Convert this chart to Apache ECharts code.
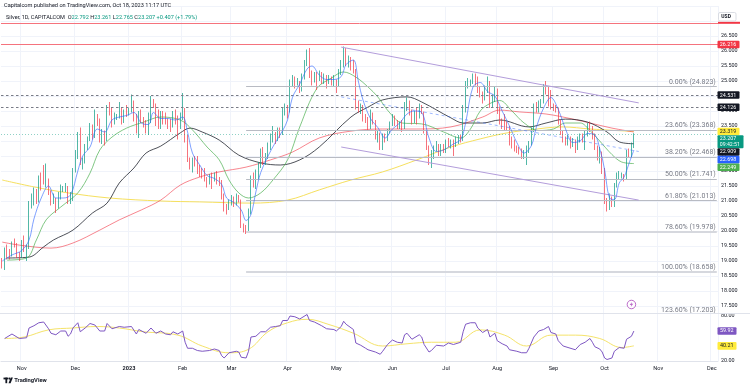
<!DOCTYPE html>
<html><head><meta charset="utf-8">
<script src="https://cdn.jsdelivr.net/npm/echarts@6/dist/echarts.min.js"></script>
<style>html,body{margin:0;padding:0;background:#fff;}#c{width:750px;height:389px;}</style>
</head><body><div id="c"></div>
<script>
// ---------- DATA ----------
// daily candles [open, high, low, close]
const oct22=[[18.95,19.10,18.75,18.85],[18.85,19.45,18.70,19.40],[19.40,19.55,19.05,19.30],[19.30,19.40,19.05,19.20],[19.20,19.65,19.15,19.60],[19.60,19.75,19.45,19.55],[19.55,19.60,19.10,19.20],[19.20,19.30,19.00,19.15]];
const nov22=[[19.15,19.70,19.10,19.65],[19.65,19.85,19.30,19.40],[19.40,19.55,19.00,19.45],[19.45,21.00,19.40,20.85],[20.85,21.25,20.75,21.05],[21.05,21.45,20.85,21.30],[21.30,21.40,20.90,21.05],[21.05,21.85,20.95,21.75],[21.75,21.95,21.35,21.70],[21.70,22.20,21.55,21.60],[21.60,22.25,21.45,21.65],[21.65,21.75,21.20,21.30],[21.30,21.35,20.85,20.95],[20.95,21.25,20.90,21.00],[21.00,21.10,20.60,20.85],[20.85,21.30,20.75,21.20],[21.20,21.55,21.05,21.40],[21.40,21.50,21.30,21.42],[21.42,21.60,21.30,21.45],[21.45,21.50,20.90,20.95],[20.95,21.30,20.90,21.10],[21.10,22.10,21.00,22.00]];
const dec22=[[22.00,22.70,21.95,22.55],[22.55,23.30,22.40,23.15],[23.15,23.45,22.20,22.30],[22.30,22.45,22.05,22.32],[22.32,22.90,22.25,22.80],[22.80,23.15,22.70,23.10],[23.10,23.60,23.00,23.50],[23.50,23.55,23.05,23.15],[23.15,24.05,23.10,23.70],[23.70,23.90,23.50,23.68],[23.68,23.75,22.95,23.05],[23.05,23.40,22.90,23.25],[23.25,23.35,22.85,23.05],[23.05,24.20,23.00,24.10],[24.10,24.30,23.85,24.00],[24.00,24.10,23.45,23.65],[23.65,23.95,23.55,23.80],[23.80,23.90,23.70,23.85],[23.85,24.30,23.75,24.00],[24.00,24.10,23.55,23.65],[23.65,24.05,23.60,23.95],[23.95,24.20,23.80,23.92]];
const jan23=[[23.92,24.10,23.85,24.00],[24.00,24.55,23.95,24.05],[24.05,24.35,23.65,23.85],[23.85,23.90,23.25,23.30],[23.30,24.00,23.10,23.85],[23.85,24.05,23.60,23.70],[23.70,23.80,23.45,23.60],[23.60,23.70,23.25,23.35],[23.35,23.95,23.20,23.70],[23.70,24.50,23.60,24.30],[24.30,24.40,24.10,24.20],[24.20,24.25,23.50,23.60],[23.60,24.05,23.40,23.50],[23.50,24.00,23.40,23.90],[23.90,24.00,23.55,23.88],[23.88,23.95,23.55,23.65],[23.65,23.75,23.40,23.60],[23.60,23.75,23.30,23.50],[23.50,24.00,23.45,23.90],[23.90,24.05,23.55,23.65],[23.65,23.85,23.05,23.60],[23.60,23.95,23.40,23.85]];
const feb23=[[23.85,24.60,23.70,24.00],[24.00,24.10,22.95,23.10],[23.10,23.20,22.30,22.40],[22.40,22.45,22.05,22.25],[22.25,22.45,21.95,22.30],[22.30,22.50,22.15,22.28],[22.28,22.50,21.90,22.00],[22.00,22.20,21.80,21.95],[21.95,22.10,21.75,21.90],[21.90,22.10,21.65,21.75],[21.75,21.80,21.45,21.60],[21.60,21.90,21.55,21.85],[21.85,21.95,21.40,21.70],[21.70,21.95,21.65,21.90],[21.90,22.00,21.55,21.70],[21.70,21.80,21.50,21.65],[21.65,21.70,21.05,21.20],[21.20,21.25,20.65,20.75],[20.75,20.90,20.55,20.72],[20.72,21.05,20.70,20.95]];
const mar23=[[20.95,21.20,20.85,21.10],[21.10,21.15,20.80,20.90],[20.90,21.25,20.85,21.15],[21.15,21.20,20.95,21.00],[21.00,21.05,20.10,20.15],[20.15,20.25,19.95,20.05],[20.05,20.20,19.90,20.00],[20.00,20.75,19.95,20.60],[20.60,21.85,20.55,21.75],[21.75,21.95,21.45,21.70],[21.70,22.05,21.40,21.80],[21.80,22.30,21.70,22.20],[22.20,22.75,22.10,22.60],[22.60,22.80,22.20,22.35],[22.35,22.60,22.20,22.45],[22.45,22.95,22.40,22.80],[22.80,23.25,22.70,23.05],[23.05,23.50,22.95,23.15],[23.15,23.30,22.90,23.10],[23.10,23.45,23.00,23.35],[23.35,23.45,23.10,23.25],[23.25,24.10,23.20,24.00],[24.00,24.25,23.85,24.05]];
const apr23=[[24.05,24.20,23.75,24.00],[24.00,25.05,23.95,24.95],[24.95,25.20,24.80,25.05],[25.05,25.15,24.75,24.90],[24.90,25.10,24.85,24.95],[24.95,25.00,24.60,24.75],[24.75,25.25,24.65,25.15],[25.15,25.70,25.05,25.60],[25.60,26.05,25.50,25.80],[25.80,26.10,25.10,25.30],[25.30,25.35,24.85,25.10],[25.10,25.30,24.95,25.20],[25.20,25.30,24.70,25.15],[25.15,25.35,25.00,25.20],[25.20,25.30,24.90,25.05],[25.05,25.25,24.90,25.10],[25.10,25.20,24.75,24.95],[24.95,25.20,24.90,25.10],[25.10,25.15,24.85,24.95],[24.95,25.20,24.80,25.00]];
const may23=[[25.00,25.05,24.60,24.95],[24.95,25.40,24.80,25.35],[25.35,25.70,25.20,25.55],[25.55,26.15,25.45,25.95],[25.95,26.10,25.50,25.65],[25.65,25.85,25.45,25.75],[25.75,25.80,25.35,25.60],[25.60,25.70,25.25,25.35],[25.35,25.40,24.05,24.15],[24.15,24.35,23.95,24.05],[24.05,24.25,23.90,24.15],[24.15,24.20,23.65,23.75],[23.75,23.90,23.60,23.70],[23.70,23.80,23.35,23.45],[23.45,24.05,23.40,23.90],[23.90,23.95,23.55,23.65],[23.65,23.70,23.05,23.15],[23.15,23.35,22.95,23.25],[23.25,23.28,22.70,22.85],[22.85,23.25,22.70,23.15],[23.15,23.25,22.95,23.10],[23.10,23.40,23.00,23.30],[23.30,23.65,23.25,23.55]];
const jun23=[[23.55,23.90,23.50,23.80],[23.80,23.85,23.50,23.60],[23.60,23.70,23.40,23.50],[23.50,23.65,23.40,23.55],[23.55,23.70,23.30,23.45],[23.45,24.30,23.40,24.20],[24.20,24.45,24.00,24.30],[24.30,24.35,23.85,23.95],[23.95,24.05,23.55,23.70],[23.70,24.00,23.60,23.95],[23.95,24.10,23.55,23.80],[23.80,24.25,23.75,24.15],[24.15,24.20,23.90,23.95],[23.95,23.98,23.25,23.30],[23.30,23.35,22.70,22.80],[22.80,22.85,22.20,22.35],[22.35,22.70,22.10,22.45],[22.45,22.85,22.40,22.75],[22.75,23.00,22.65,22.80],[22.80,22.90,22.50,22.65],[22.65,22.90,22.50,22.75],[22.75,22.90,22.60,22.70]];
const jul23=[[22.70,23.05,22.60,22.95],[22.95,23.10,22.80,22.90],[22.90,23.05,22.75,23.00],[23.00,23.05,22.50,22.85],[22.85,23.15,22.80,23.05],[23.05,23.20,22.90,23.10],[23.10,23.20,22.95,23.05],[23.05,24.20,23.00,24.05],[24.05,25.00,23.95,24.90],[24.90,25.10,24.75,24.95],[24.95,25.05,24.80,25.00],[25.00,25.25,24.90,25.15],[25.15,25.25,24.85,25.10],[25.10,25.15,24.60,24.75],[24.75,24.80,24.45,24.55],[24.55,24.65,24.25,24.45],[24.45,24.85,24.35,24.75],[24.75,25.15,24.60,24.90],[24.90,25.00,24.10,24.25],[24.25,24.55,24.10,24.35],[24.35,24.80,24.30,24.70]];
const aug23=[[24.70,24.75,23.90,24.05],[24.05,24.15,23.55,23.65],[23.65,23.75,23.40,23.60],[23.60,23.90,23.35,23.55],[23.55,23.65,23.35,23.45],[23.45,23.50,22.85,22.95],[22.95,23.15,22.75,22.80],[22.80,23.05,22.65,22.75],[22.75,22.85,22.60,22.70],[22.70,22.80,22.55,22.65],[22.65,22.75,22.40,22.50],[22.50,22.70,22.40,22.55],[22.55,22.85,22.20,22.70],[22.70,23.00,22.60,22.90],[22.90,23.45,22.85,23.35],[23.35,24.25,23.30,24.15],[24.15,24.30,23.95,24.10],[24.10,24.35,23.95,24.25],[24.25,24.40,24.10,24.30],[24.30,24.90,24.25,24.70],[24.70,25.00,24.55,24.65],[24.65,24.80,24.15,24.20],[24.20,24.70,24.05,24.15]];
const sep23=[[24.15,24.25,24.00,24.10],[24.10,24.20,23.95,24.05],[24.05,24.10,23.55,23.60],[23.60,23.70,23.20,23.30],[23.30,23.35,22.95,23.10],[23.10,23.15,22.85,23.00],[23.00,23.20,22.85,23.05],[23.05,23.15,22.75,22.85],[22.85,23.10,22.80,23.00],[23.00,23.05,22.60,22.75],[22.75,23.15,22.70,23.05],[23.05,23.25,22.95,23.20],[23.20,23.25,22.95,23.10],[23.10,23.35,22.70,23.30],[23.30,23.60,23.15,23.50],[23.50,23.65,23.30,23.45],[23.45,23.50,23.05,23.20],[23.20,23.25,22.70,22.80],[22.80,22.85,22.35,22.45],[22.45,22.80,22.25,22.55],[22.55,22.65,21.90,22.05]];
const oct23=[[22.05,22.10,20.90,21.00],[21.00,21.10,20.65,20.90],[20.90,21.25,20.70,21.00],[21.00,21.15,20.80,20.95],[20.95,21.60,20.80,21.50],[21.50,21.95,21.45,21.80],[21.80,22.00,21.70,21.85],[21.85,21.95,21.75,21.86],[21.86,21.90,21.65,21.75],[21.75,22.70,21.70,22.60],[22.60,22.75,22.45,22.55],[22.55,22.95,22.45,22.80],[22.792,23.261,22.765,23.207]];

// moving averages: [bar index, value]
const maFast=[[0,19.0],[4,19.2],[8,19.35],[11,19.7],[13,20.4],[16,21.1],[19,21.5],[22,21.1],[25,21.1],[28,21.2],[31,22.0],[33,22.5],[36,22.8],[39,23.4],[42,23.3],[45,23.7],[48,23.8],[51,23.85],[54,23.95],[57,23.6],[60,23.55],[62,23.95],[65,23.75],[68,23.75],[71,23.7],[74,23.8],[76,23.3],[78,22.6],[81,22.2],[84,21.85],[87,21.75],[90,21.55],[92,21.1],[95,20.95],[98,20.7],[100,20.35],[102,20.55],[104,21.3],[106,21.95],[109,22.5],[112,22.95],[115,23.35],[117,23.7],[119,24.45],[122,24.9],[125,25.4],[127,25.5],[130,25.2],[133,25.05],[136,25.05],[139,25.15],[141,25.55],[144,25.7],[146,25.0],[148,24.35],[151,23.75],[154,23.45],[157,23.1],[160,23.4],[163,23.6],[166,23.9],[169,24.0],[172,23.95],[175,23.1],[178,22.65],[181,22.7],[185,22.9],[188,23.05],[190,23.6],[193,24.8],[196,24.95],[199,24.65],[202,24.5],[205,24.0],[208,23.5],[211,22.95],[214,22.6],[217,22.85],[219,23.45],[222,24.1],[225,24.45],[228,24.05],[231,23.4],[234,22.95],[237,23.0],[240,23.25],[243,23.2],[245,22.75],[247,22.05],[249,21.1],[251,21.05],[253,21.6],[255,21.8],[257,22.25],[259,22.698]];
const ma20=[[2,19.03],[10,19.1],[14,19.7],[18,20.37],[24,20.8],[31,21.27],[36,21.93],[40,22.7],[45,23.13],[51,23.43],[58,23.63],[65,23.8],[73,23.7],[78,23.37],[84,22.8],[89,22.37],[93,21.7],[97,21.27],[101,21.1],[106,21.27],[111,21.7],[117,22.37],[122,23.47],[129,24.75],[135,25.1],[140,25.3],[145,25.13],[150,24.8],[154,24.47],[159,23.93],[164,23.6],[172,23.57],[181,23.3],[188,23.1],[192,23.4],[196,24.0],[200,24.25],[204,24.35],[209,24.0],[214,23.6],[220,23.35],[226,23.4],[231,23.6],[237,23.6],[241,23.35],[245,23.0],[250,22.55],[254,22.3],[259,22.249]];
const ma50=[[2,19.1],[11,19.13],[17,19.47],[21,19.7],[29,20.03],[37,20.6],[43,20.93],[48,21.6],[54,22.1],[59,22.6],[65,22.83],[73,23.27],[77,23.43],[82,23.3],[89,23.03],[97,22.53],[106,22.27],[114,22.2],[122,22.37],[130,22.8],[143,23.8],[150,24.13],[156,24.37],[166,24.47],[172,24.3],[184,23.77],[189,23.6],[197,23.6],[204,23.7],[216,23.47],[223,23.6],[231,23.73],[240,23.63],[248,23.3],[253,22.97],[259,22.909]];
const ma100=[[0,19.63],[7,19.53],[20,19.43],[29,19.6],[40,20.03],[48,20.37],[57,20.7],[65,21.03],[73,21.53],[81,21.8],[89,21.97],[100,22.13],[110,22.37],[119,22.63],[130,23.1],[143,23.33],[156,23.4],[170,23.4],[184,23.47],[197,23.8],[204,24.03],[212,23.97],[223,23.9],[234,23.73],[241,23.6],[250,23.43],[259,23.3]];
const ma200=[[0,21.7],[13,21.47],[27,21.27],[44,21.1],[65,21.0],[81,20.97],[102,20.93],[117,21.03],[130,21.37],[143,21.7],[156,21.97],[170,22.37],[184,22.8],[196,23.07],[207,23.27],[216,23.37],[230,23.47],[241,23.4],[259,23.319]];

// RSI pane: [bar index, value]
const rsi=[[1,50],[4,56],[7,50],[10,51],[11,64],[13,67],[15,71],[17,72],[19,63],[20,57],[22,55],[24,60],[26,60],[27,53],[28,56],[29,64],[31,71],[32,59],[34,64],[36,70],[38,68],[40,60],[42,60],[43,70],[45,63],[48,66],[50,65],[53,66],[55,56],[56,62],[59,57],[61,64],[63,57],[65,60],[67,56],[69,55],[70,59],[72,56],[74,60],[75,45],[76,37],[78,37],[80,34],[82,33],[85,34],[87,36],[89,34],[90,27],[91,24],[93,31],[96,33],[97,32],[98,25],[100,24],[101,33],[102,52],[104,53],[106,59],[108,59],[110,65],[112,66],[114,67],[115,74],[117,74],[118,80],[120,79],[122,76],[125,82],[126,74],[128,72],[131,67],[133,63],[136,62],[137,60],[139,66],[140,73],[141,69],[144,62],[145,44],[147,41],[149,37],[150,35],[153,32],[155,29],[156,33],[158,42],[160,48],[162,45],[164,44],[165,55],[166,57],[168,49],[171,55],[172,52],[173,42],[175,32],[176,34],[178,41],[181,40],[183,44],[185,42],[188,45],[189,59],[190,69],[192,71],[194,71],[195,64],[197,58],[199,62],[200,52],[202,57],[203,47],[205,43],[207,40],[208,35],[211,33],[213,31],[215,31],[216,37],[218,52],[220,60],[222,62],[224,66],[225,58],[227,56],[228,47],[230,40],[232,38],[235,35],[237,42],[239,45],[241,50],[242,45],[243,39],[245,36],[246,32],[247,24],[248,22],[250,24],[251,33],[253,38],[255,37],[256,49],[258,53],[259,59.92]];
const rsiMa=[[1,50],[9,52],[19,61.5],[29,64],[39,66],[48,64],[58,59],[72,54.5],[82,40],[93,31],[101,35.6],[109,59],[117,71],[125,75.6],[134,68.6],[144,57],[156,40],[166,43],[176,45],[186,45],[196,61.5],[206,54.5],[215,40],[225,54.5],[235,54.5],[245,50],[254,38],[259,40.21]];

// drawn levels
const fibLevels=[[0,24.823],[23.6,23.368],[38.2,22.468],[50,21.741],[61.8,21.013],[78.6,19.978],[100,18.658],[123.6,17.203]];
const horizLevels=[26.94,26.216];
const dashedLevels=[24.531,24.126];
const lastPrice=23.207;
const channelUpper=[[139,26.13],[261,24.27]];
const channelLower=[[139,22.80],[261,21.03]];
const channelMid=[[139,24.47],[261,22.65]];
const fibStartBar=100;
const eventMark=[258,17.55];

// ---------- calendar (weekdays from 20 Oct 2022, incl. future slots) ----------
const SLOTS=294;
const dates=[];const monthLabels={};
const MN=['Jan','Feb','Mar','Apr','May','Jun','Jul','Aug','Sep','Oct','Nov','Dec'];
{let d=new Date(Date.UTC(2022,9,20));let prevM=-1;
 while(dates.length<SLOTS){const wd=d.getUTCDay();
  if(wd!==0&&wd!==6){const m=d.getUTCMonth();
   if(prevM!==-1&&m!==prevM){monthLabels[dates.length]=(m===0)?'{b|'+d.getUTCFullYear()+'}':MN[m];}
   prevM=m;dates.push(d.toISOString().slice(0,10));}
  d.setUTCDate(d.getUTCDate()+1);}}
const isMonth=(i)=>monthLabels[i]!==undefined;

const ohlc=[].concat(oct22,nov22,dec22,jan23,feb23,mar23,apr23,may23,jun23,jul23,aug23,sep23,oct23);
const candles=ohlc.map(r=>[r[0],r[3],r[2],r[1]]);

const FONT='Roboto, Arial, sans-serif';
const UP='#089981',DN='#f23645';

const markLines=[];
horizLevels.forEach(v=>markLines.push({yAxis:v,lineStyle:{color:'#f5737d',width:1,type:'solid'},label:{show:false}}));
dashedLevels.forEach(v=>markLines.push({yAxis:v,lineStyle:{color:'#787b86',width:1,type:[2.5,2.5]},label:{show:false}}));
markLines.push({yAxis:lastPrice,lineStyle:{color:'rgba(8,153,129,0.45)',width:1,type:[1,2]},label:{show:false}});
fibLevels.forEach(([p,v])=>{
  const thick=(p===78.6||p===100);
  markLines.push([{coord:[fibStartBar,v],lineStyle:{color:thick?'#d6d8de':'#b8bbc3',width:thick?2:1,type:'solid'},
    label:{show:true,position:'insideEndTop',distance:1,formatter:p.toFixed(2)+'% ('+v.toFixed(3)+')',color:'#787b86',fontSize:7,fontFamily:FONT}},
    {coord:[SLOTS-1,v]}]);
});
const chan=(pts,style)=>[{coord:pts[0],lineStyle:style,label:{show:false}},{coord:pts[1]}];
markLines.push(chan(channelUpper,{color:'#b39ddb',width:1,type:'solid'}));
markLines.push(chan(channelLower,{color:'#b39ddb',width:1,type:'solid'}));
markLines.push(chan(channelMid,{color:'rgba(41,98,255,0.45)',width:1,type:[3,3]}));

const maSeries=(data,color,z)=>({type:'line',data:data,xAxisIndex:0,yAxisIndex:0,showSymbol:false,smooth:0.35,
  lineStyle:{color:color,width:1},silent:true,z:z});

const option={
  animation:false,backgroundColor:'#ffffff',
  textStyle:{fontFamily:FONT},
  grid:[{left:1,top:6,width:717,height:315},{left:1,top:313,width:717,height:48}],
  xAxis:[
    {type:'category',data:dates,gridIndex:0,axisLine:{show:false},axisTick:{show:false},axisLabel:{show:false},
     splitLine:{show:true,interval:isMonth,lineStyle:{color:'#f0f3fa',width:1}}},
    {type:'category',data:dates,gridIndex:1,z:20,axisLine:{show:true,lineStyle:{color:'#e0e3eb'}},axisTick:{show:false},
     axisLabel:{show:true,interval:isMonth,formatter:(v,i)=>monthLabels[i]||'',color:'#131722',fontSize:5.6,margin:5,fontFamily:FONT,
       rich:{b:{fontWeight:'bold',fontSize:5.6,color:'#131722',fontFamily:FONT}}},
     splitLine:{show:true,interval:isMonth,lineStyle:{color:'#f0f3fa',width:1}}}
  ],
  yAxis:[
    {type:'value',gridIndex:0,position:'right',min:17,max:27.5,interval:0.5,scale:true,
     axisLine:{show:false},axisTick:{show:false},
     axisLabel:{margin:3,fontSize:5.4,color:'#131722',fontFamily:FONT,formatter:v=>(v<17.4||v>26.9)?'':v.toFixed(3)},
     splitLine:{show:true,lineStyle:{color:'#f0f3fa',width:1}}},
    {type:'value',gridIndex:1,position:'right',min:20,max:84,interval:20,z:20,
     axisLine:{show:false},axisTick:{show:false},
     axisLabel:{margin:3,fontSize:5.4,color:'#131722',fontFamily:FONT,formatter:v=>(v===20||v===80)?v.toFixed(2):''},
     splitLine:{show:false}}
  ],
  series:[
    maSeries(ma200,'#f6e05e',3),
    maSeries(ma100,'rgba(242,54,69,0.6)',3),
    maSeries(ma50,'rgba(19,23,34,0.75)',3),
    maSeries(ma20,'rgba(76,175,80,0.7)',3),
    {type:'candlestick',data:candles,xAxisIndex:0,yAxisIndex:0,barWidth:1.3,z:4,
     itemStyle:{color:UP,color0:DN,borderColor:UP,borderColor0:DN,borderColorDoji:UP,borderWidth:0.7},
     markLine:{silent:true,symbol:'none',animation:false,data:markLines}},
    maSeries(maFast,'rgba(41,98,255,0.6)',5),
    {type:'scatter',data:[eventMark],xAxisIndex:0,yAxisIndex:0,symbol:'circle',symbolSize:8.5,z:6,silent:true,
     itemStyle:{color:'#ffffff',borderColor:'#ab47bc',borderWidth:1}},
    {type:'scatter',data:[eventMark],xAxisIndex:0,yAxisIndex:0,symbol:'path://M6,0 L0,7 L4,7 L3,12 L9,4.5 L5,4.5 Z',symbolSize:[3.6,5.2],z:7,silent:true,
     itemStyle:{color:'#ab47bc'}},
    {type:'line',data:rsi,xAxisIndex:1,yAxisIndex:1,showSymbol:false,smooth:false,z:22,silent:true,
     lineStyle:{color:'#7e57c2',width:1},
     markArea:{silent:true,itemStyle:{color:'rgba(126,87,194,0.1)'},data:[[{yAxis:70},{yAxis:30}]]},
     markLine:{silent:true,symbol:'none',label:{show:false},lineStyle:{color:'#9598a1',type:[3,3],width:1,opacity:0.7},
       data:[{yAxis:70},{yAxis:50},{yAxis:30}]}},
    {type:'line',data:rsiMa,xAxisIndex:1,yAxisIndex:1,showSymbol:false,smooth:0.4,z:21,silent:true,
     lineStyle:{color:'#f5e36a',width:1}}
  ]
};

const chart=echarts.init(document.getElementById('c'),null,{renderer:'canvas'});
chart.setOption(option);

// ---------- overlays: header, tags, logo ----------
const yPix=(v,ax)=>chart.convertToPixel({yAxisIndex:ax},v);
const txt=(x,y,text,fill,size,bold,z)=>({type:'text',x:x,y:y,z:z||45,silent:true,
  style:{text:text,fill:fill,fontSize:size,fontFamily:FONT,fontWeight:bold?'bold':'normal',textVerticalAlign:'middle',verticalAlign:'middle'}});
const g=[];
// clip main pane at pane separator
g.push({type:'rect',shape:{x:0,y:313.5,width:718,height:47.5},style:{fill:'#ffffff'},z:10,silent:true});
g.push({type:'line',shape:{x1:0,y1:313.5,x2:750,y2:313.5},style:{stroke:'#e0e3eb',lineWidth:1},z:21,silent:true});
// header
g.push(txt(4,6,'Capitalcom published on TradingView.com, Oct 18, 2023 11:17 UTC','#131722',5.6));
g.push({type:'text',x:6,y:17.3,z:45,silent:true,style:{
  text:'{a|Silver, 1D, CAPITALCOM}  {a|O}{g|22.792} {a|H}{g|23.261} {a|L}{g|22.765} {a|C}{g|23.207} {g|+0.407 (+1.79%)}',
  textVerticalAlign:'middle',verticalAlign:'middle',fontSize:5.6,fontFamily:FONT,
  rich:{a:{fill:'#131722',color:'#131722',fontSize:5.6,fontFamily:FONT},g:{fill:UP,color:UP,fontSize:5.6,fontFamily:FONT}}}});
// USD button
g.push({type:'rect',shape:{x:718,y:21.8,width:22,height:2},style:{fill:'#f23645'},z:38,silent:true});
g.push({type:'rect',shape:{x:718.5,y:12.5,width:17.5,height:8.5,r:1.5},style:{fill:'#ffffff',stroke:'#d1d4dc',lineWidth:0.8},z:39,silent:true});
g.push(txt(721.3,16.8,'USD','#131722',5,true));
// price tags
const tags=[
  {v:26.216,t:'26.216',bg:'#f23645',fg:'#ffffff'},
  {v:24.531,t:'24.531',bg:'#131722',fg:'#ffffff'},
  {v:24.126,t:'24.126',bg:'#131722',fg:'#ffffff'},
  {v:23.319,t:'23.319',bg:'#ffeb3b',fg:'#131722'},
  {v:23.207,t:'23.207',t2:'09:42:51',bg:UP,fg:'#ffffff'},
  {v:22.909,t:'22.909',bg:'#131722',fg:'#ffffff'},
  {v:22.698,t:'22.698',bg:'#2962ff',fg:'#ffffff'},
  {v:22.249,t:'22.249',bg:'#4caf50',fg:'#ffffff'}
].map(o=>Object.assign(o,{y:yPix(o.v,0)})).sort((a,b)=>a.y-b.y);
let lastBottom=-1e9;
tags.forEach(o=>{
  const h=o.t2?13:7.6;let top=o.y-3.8;if(top<lastBottom)top=lastBottom;lastBottom=top+h;
  g.push({type:'rect',shape:{x:717.5,y:top,width:o.t2?26:22,height:h,r:1},style:{fill:o.bg},z:41,silent:true});
  g.push(txt(719.8,top+3.9,o.t,o.fg,5.4));
  if(o.t2)g.push(txt(719.8,top+9.3,o.t2,o.fg,5.2));
});
const rtags=[{v:59.92,t:'59.92',bg:'#7e57c2',fg:'#ffffff'},{v:40.21,t:'40.21',bg:'#ffeb3b',fg:'#131722'}];
rtags.forEach(o=>{const y=yPix(o.v,1);
  g.push({type:'rect',shape:{x:717.5,y:y-3.8,width:19,height:7.6,r:1},style:{fill:o.bg},z:41,silent:true});
  g.push(txt(720,y,o.t,o.fg,5.4));});
// TradingView logo
g.push({type:'rect',shape:{x:3.5,y:377.6,width:4.6,height:1.8},style:{fill:'#131722'},z:40,silent:true});
g.push({type:'rect',shape:{x:5.4,y:377.6,width:1.8,height:5.6},style:{fill:'#131722'},z:40,silent:true});
g.push({type:'circle',shape:{cx:9.4,cy:378.6,r:1.05},style:{fill:'#131722'},z:40,silent:true});
g.push({type:'polygon',shape:{points:[[10.8,377.6],[12.9,377.6],[10.6,383.2],[8.5,383.2]]},style:{fill:'#131722'},z:40,silent:true});
g.push(txt(14.2,380.6,'TradingView','#131722',5.8,true));
chart.setOption({graphic:g});
</script></body></html>
